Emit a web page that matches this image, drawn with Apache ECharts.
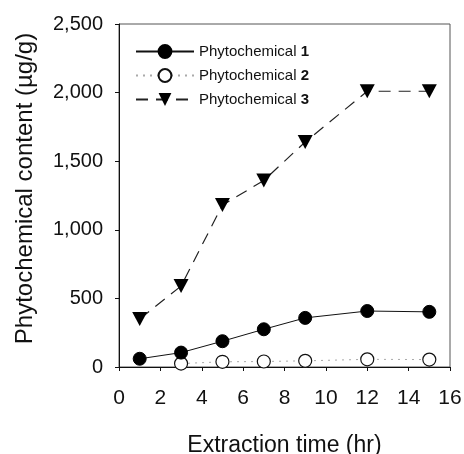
<!DOCTYPE html>
<html>
<head>
<meta charset="utf-8">
<script src="https://cdn.jsdelivr.net/npm/echarts@6/dist/echarts.min.js"></script>
<style>
html,body{margin:0;padding:0;background:#fff;}
#c{width:464px;height:454px;}
</style>
</head>
<body>
<div id="c"></div>
<script>
const times1 = [1, 3, 5, 7, 9, 12, 15];
const phyto1 = [60, 105, 188, 275, 358, 408, 402];
const times2 = [3, 5, 7, 9, 12, 15];
const phyto2 = [25, 38, 40, 45, 56, 54];
const times3 = [1, 3, 5, 7, 9, 12, 15];
const phyto3 = [350, 590, 1180, 1360, 1640, 2010, 2010];
const seriesNames = ['Phytochemical 1', 'Phytochemical 2', 'Phytochemical 3'];
const xTicks = [0, 2, 4, 6, 8, 10, 12, 14, 16];
const yTicks = [0, 500, 1000, 1500, 2000, 2500];

const font = 'Liberation Sans, Arial, sans-serif';
const pair = (xs, ys) => xs.map((x, i) => [x, ys[i]]);
const downTri = 'path://M0,0 L10,0 L5,9 Z';

const chart = echarts.init(document.getElementById('c'), null, {renderer: 'canvas'});
chart.setOption({
  animation: false,
  backgroundColor: '#fff',
  grid: {left: 119, right: 14, top: 24, bottom: 87, containLabel: false, outerBoundsMode: 'none',
    show: true, borderColor: '#555', borderWidth: 1, backgroundColor: 'transparent'},
  legend: {
    left: 130, top: 39, orient: 'vertical',
    itemWidth: 58, itemHeight: 16, itemGap: 9,
    data: seriesNames,
    textStyle: {
      fontFamily: font, fontSize: 15, color: '#111',
      rich: {a: {fontFamily: font, fontSize: 15, color: '#111'}, b: {fontFamily: font, fontSize: 15, color: '#111', fontWeight: 'bold'}}
    },
    formatter: function (name) {
      const parts = name.split(' ');
      return '{a|' + parts[0] + ' }{b|' + parts[1] + '}';
    }
  },
  xAxis: {
    type: 'value', min: 0, max: 16, interval: 2,
    name: 'Extraction time (hr)', nameLocation: 'middle', nameGap: 67,
    nameTextStyle: {fontFamily: font, fontSize: 23, color: '#111'},
    axisLine: {show: true, lineStyle: {color: '#111', width: 1}},
    axisTick: {show: true, length: 4, lineStyle: {color: '#111'}},
    axisLabel: {fontFamily: font, fontSize: 21, color: '#111', margin: 21,
      formatter: v => xTicks.includes(v) ? String(v) : ''},
    splitLine: {show: false}
  },
  yAxis: {
    type: 'value', min: 0, max: 2500, interval: 500,
    name: 'Phytochemical content (\u00b5g/g)', nameLocation: 'middle', nameGap: 82,
    nameTextStyle: {fontFamily: font, fontSize: 24, color: '#111', padding: [0, 0, 0, 14]},
    axisLine: {show: true, lineStyle: {color: '#111', width: 1}},
    axisTick: {show: true, length: 4, lineStyle: {color: '#111'}},
    axisLabel: {fontFamily: font, fontSize: 20, color: '#111', margin: 16,
      formatter: v => yTicks.includes(v) ? v.toLocaleString('en-US') : ''},
    splitLine: {show: false}
  },
  series: [
    {
      name: seriesNames[0], type: 'line', data: pair(times1, phyto1),
      symbol: 'circle', symbolSize: 13,
      lineStyle: {color: '#111', width: 1, type: 'solid'},
      itemStyle: {color: '#000', borderColor: '#000', borderWidth: 1},
      z: 3
    },
    {
      name: seriesNames[1], type: 'line', data: pair(times2, phyto2),
      symbol: 'circle', symbolSize: 13,
      lineStyle: {color: '#aaa', width: 1, type: [2, 5]},
      itemStyle: {color: '#fff', borderColor: '#111', borderWidth: 1.2},
      z: 2
    },
    {
      name: seriesNames[2], type: 'line', data: pair(times3, phyto3),
      symbol: downTri, symbolSize: [15, 14],
      lineStyle: {color: '#222', width: 1.2, type: [12, 8]},
      itemStyle: {color: '#000', borderColor: '#000', borderWidth: 0},
      z: 4
    }
  ]
});
</script>
</body>
</html>
